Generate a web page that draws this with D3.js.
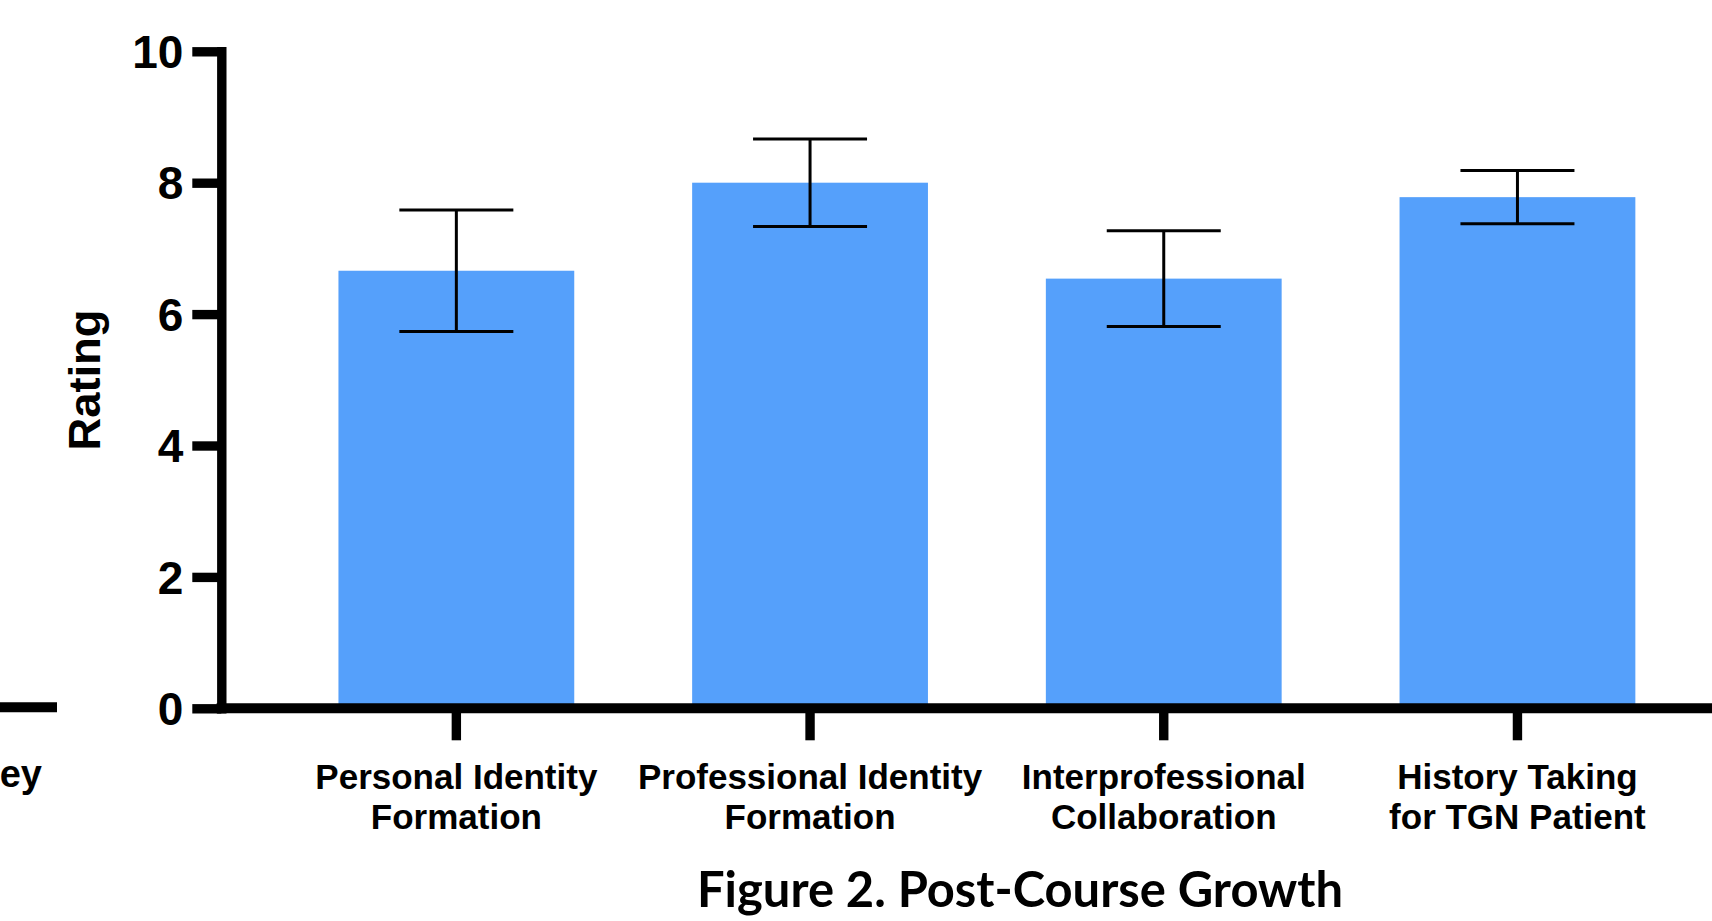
<!DOCTYPE html>
<html>
<head>
<meta charset="utf-8">
<script src="https://cdn.jsdelivr.net/npm/d3@7/dist/d3.min.js"></script>
<style>
  html, body { margin: 0; padding: 0; background: #ffffff; }
  svg { display: block; }
  .axis text { font-family: "Liberation Sans", Arial, sans-serif; font-weight: bold; fill: #000; }
</style>
</head>
<body>
<svg id="chart" width="1712" height="921"></svg>
<script>
// Post-course self ratings, mean with error
const categories = [
  "Personal Identity\nFormation",
  "Professional Identity\nFormation",
  "Interprofessional\nCollaboration",
  "History Taking\nfor TGN Patient"
];
const means = [6.66, 8.0, 6.54, 7.78];
const errors = [0.925, 0.665, 0.73, 0.405];
const yTicks = [0, 2, 4, 6, 8, 10];
const yLabel = "Rating";
const title = "Figure 2. Post-Course Growth";

const svg = d3.select("#chart");
const W = 1712, H = 921;
const axisWidth = 9.4;
const barColor = "#55a0fb";

const y = d3.scaleLinear().domain([0, 10]).range([708.3, 51.3]);
const x = d3.scaleBand()
  .domain(categories)
  .range([279.5, 1694.3])
  .paddingInner(1 / 3)
  .paddingOuter(1 / 6);

const axisX = 221.3;

// Piece of the neighbouring panel's baseline and label at the left edge
svg.append("line")
  .attr("x1", 0).attr("x2", 57)
  .attr("y1", y(0) - 1).attr("y2", y(0) - 1)
  .attr("stroke", "#000").attr("stroke-width", 10);
svg.append("text")
  .attr("x", 42).attr("y", 787)
  .attr("text-anchor", "end")
  .attr("font-family", "Liberation Sans, Arial, sans-serif")
  .attr("font-weight", "bold")
  .attr("font-size", 38)
  .text("ey");

// Bars
svg.append("g").selectAll("rect")
  .data(means)
  .join("rect")
  .attr("x", (d, i) => x(categories[i]))
  .attr("width", x.bandwidth())
  .attr("y", d => y(d))
  .attr("height", d => y(0) - y(d))
  .attr("fill", barColor);

// Error bars
const capHalf = 57;
const eb = svg.append("g").attr("stroke", "#000").attr("stroke-width", 3);
means.forEach((m, i) => {
  const cx = x(categories[i]) + x.bandwidth() / 2;
  const hi = y(m + errors[i]), lo = y(m - errors[i]);
  eb.append("line").attr("x1", cx).attr("x2", cx).attr("y1", hi).attr("y2", lo);
  eb.append("line").attr("x1", cx - capHalf).attr("x2", cx + capHalf).attr("y1", hi).attr("y2", hi);
  eb.append("line").attr("x1", cx - capHalf).attr("x2", cx + capHalf).attr("y1", lo).attr("y2", lo);
});

// Y axis
const yAxis = d3.axisLeft(y)
  .tickValues(yTicks)
  .tickFormat(d3.format("d"))
  .tickSize(29)
  .tickSizeOuter(0)
  .tickPadding(9);
const gy = svg.append("g")
  .attr("class", "axis")
  .attr("transform", `translate(${axisX},0)`)
  .call(yAxis);
gy.select(".domain").attr("stroke-width", axisWidth).attr("stroke-linecap", "square");
gy.selectAll(".tick line").attr("stroke-width", axisWidth);
gy.selectAll(".tick text").attr("font-size", 46).attr("dy", "0.35em");

// X axis
const xAxis = d3.axisBottom(x)
  .tickSize(32)
  .tickSizeOuter(0)
  .tickFormat("");
const gx = svg.append("g")
  .attr("class", "axis")
  .attr("transform", `translate(0,${y(0)})`)
  .call(xAxis);
gx.select(".domain").attr("d", `M${axisX - axisWidth / 2},0H${W + 10}`).attr("stroke-width", 10);
gx.selectAll(".tick line").attr("stroke-width", axisWidth);

// Category labels, two lines each
gx.selectAll(".tick").each(function(d) {
  const t = d3.select(this).append("text")
    .attr("text-anchor", "middle")
    .attr("font-size", 35)
    .attr("fill", "#000");
  d.split("\n").forEach((line, k) => {
    t.append("tspan").attr("x", 0).attr("y", 81 + k * 40).text(line);
  });
});

// Y axis title
svg.append("text")
  .attr("transform", `translate(100,${(309 + 451) / 2}) rotate(-90)`)
  .attr("text-anchor", "middle")
  .attr("font-family", "Liberation Sans, Arial, sans-serif")
  .attr("font-weight", "bold")
  .attr("font-size", 44)
  .attr("textLength", 141)
  .attr("lengthAdjust", "spacingAndGlyphs")
  .text(yLabel);

// Figure caption
svg.append("text")
  .attr("x", 1020).attr("y", 907)
  .attr("text-anchor", "middle")
  .attr("font-family", "Lato, 'Open Sans', sans-serif")
  .attr("font-weight", "bold")
  .attr("font-size", 50)
  .attr("textLength", 646)
  .attr("lengthAdjust", "spacingAndGlyphs")
  .text(title);
</script>
</body>
</html>
